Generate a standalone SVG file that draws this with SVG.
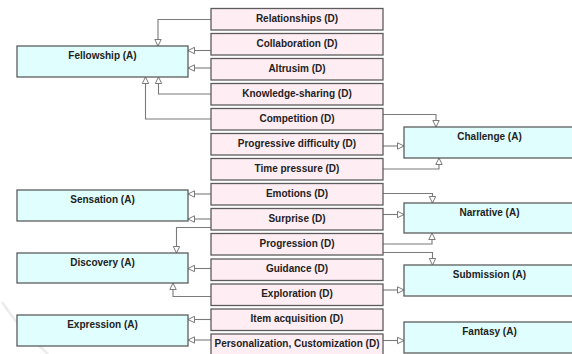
<svg xmlns="http://www.w3.org/2000/svg" width="572" height="354" viewBox="0 0 572 354">
  <defs>
    <style>
      .d rect { fill: #FFEDF4; stroke: #5c5c5c; stroke-width: 1.3; }
      .a rect { fill: #E0FEFE; stroke: #5c5c5c; stroke-width: 1.3; }
      text { font-family: "Liberation Sans", Arial, sans-serif; font-size: 10px; font-weight: bold; fill: #222; text-anchor: middle; }
      #connectors path { fill: none; stroke: #7a7a7a; stroke-width: 1.1; marker-end: url(#tri); }
    </style>
    <!-- hollow triangle arrowhead, tip sits on the target box edge -->
    <marker id="tri" markerUnits="userSpaceOnUse" markerWidth="10" markerHeight="10" refX="7" refY="3.5" orient="auto" overflow="visible">
      <path d="M0.5,0.3 L7,3.5 L0.5,6.7 Z" fill="#ffffff" stroke="#7a7a7a" stroke-width="1"/>
    </marker>
  </defs>

  <rect width="572" height="354" fill="#ffffff"/>
  <!-- faint page mark, lower left -->
  <path d="M2,302 Q20,330 48,354" fill="none" stroke="#ececec" stroke-width="2.5"/>

  <!-- connectors -->
  <g id="connectors">
    <path d="M211,19.5 H158 V46"/>
    <path d="M211,50.5 H188"/>
    <path d="M211,68 H188"/>
    <path d="M211,94 H158.5 V77"/>
    <path d="M211,119 H145.5 V77"/>
    <path d="M383,114.5 H436 V127"/>
    <path d="M383,146 H404"/>
    <path d="M383,169 H439 V158"/>
    <path d="M211,194 H188"/>
    <path d="M383,193.5 H432.5 V203"/>
    <path d="M211,219 H188"/>
    <path d="M383,214.5 H404"/>
    <path d="M211,227.5 H176.5 V253"/>
    <path d="M383,244 H432 V233"/>
    <path d="M383,252.5 H432.5 V265"/>
    <path d="M211,268.5 H188"/>
    <path d="M211,296.5 H173 V283"/>
    <path d="M383,290 H404"/>
    <path d="M211,319.5 H188"/>
    <path d="M211,340 H188"/>
    <path d="M383,340.5 H404"/>
  </g>

  <!-- aspects (A) -->
  <g id="fellowship" class="a"><rect x="17" y="46" width="171" height="31"/><text x="102.5" y="59">Fellowship (A)</text></g>
  <g id="sensation" class="a"><rect x="17" y="190" width="171" height="31"/><text x="102.5" y="203">Sensation (A)</text></g>
  <g id="discovery" class="a"><rect x="17" y="253" width="171" height="30"/><text x="102.5" y="266">Discovery (A)</text></g>
  <g id="expression" class="a"><rect x="17" y="315" width="171" height="31"/><text x="102.5" y="328">Expression (A)</text></g>
  <g id="challenge" class="a"><rect x="404" y="127" width="171" height="31"/><text x="489.5" y="140">Challenge (A)</text></g>
  <g id="narrative" class="a"><rect x="404" y="203" width="171" height="30"/><text x="489.5" y="216">Narrative (A)</text></g>
  <g id="submission" class="a"><rect x="404" y="265" width="171" height="31"/><text x="489.5" y="278">Submission (A)</text></g>
  <g id="fantasy" class="a"><rect x="404" y="322" width="171" height="31"/><text x="489.5" y="335">Fantasy (A)</text></g>

  <!-- dynamics (D) -->
  <g id="relationships" class="d"><rect x="211" y="8.5" width="172" height="21.5"/><text x="297" y="21.5">Relationships (D)</text></g>
  <g id="collaboration" class="d"><rect x="211" y="33.5" width="172" height="21.5"/><text x="297" y="46.5">Collaboration (D)</text></g>
  <g id="altrusim" class="d"><rect x="211" y="58.5" width="172" height="21.5"/><text x="297" y="71.5">Altrusim (D)</text></g>
  <g id="knowledge-sharing" class="d"><rect x="211" y="83.5" width="172" height="21.5"/><text x="297" y="96.5">Knowledge-sharing (D)</text></g>
  <g id="competition" class="d"><rect x="211" y="108.5" width="172" height="21.5"/><text x="297" y="121.5">Competition (D)</text></g>
  <g id="progressive-difficulty" class="d"><rect x="211" y="133.5" width="172" height="21.5"/><text x="297" y="146.5">Progressive difficulty (D)</text></g>
  <g id="time-pressure" class="d"><rect x="211" y="158.5" width="172" height="21.5"/><text x="297" y="171.5">Time pressure (D)</text></g>
  <g id="emotions" class="d"><rect x="211" y="183.5" width="172" height="21.5"/><text x="297" y="196.5">Emotions (D)</text></g>
  <g id="surprise" class="d"><rect x="211" y="208.5" width="172" height="21.5"/><text x="297" y="221.5">Surprise (D)</text></g>
  <g id="progression" class="d"><rect x="211" y="233.5" width="172" height="21.5"/><text x="297" y="246.5">Progression (D)</text></g>
  <g id="guidance" class="d"><rect x="211" y="259" width="172" height="21.5"/><text x="297" y="272">Guidance (D)</text></g>
  <g id="exploration" class="d"><rect x="211" y="284" width="172" height="21.5"/><text x="297" y="297">Exploration (D)</text></g>
  <g id="item-acquisition" class="d"><rect x="211" y="309" width="172" height="21.5"/><text x="297" y="322">Item acquisition (D)</text></g>
  <g id="personalization" class="d"><rect x="211" y="334" width="172" height="21.5"/><text x="297" y="347">Personalization, Customization (D)</text></g>
</svg>
